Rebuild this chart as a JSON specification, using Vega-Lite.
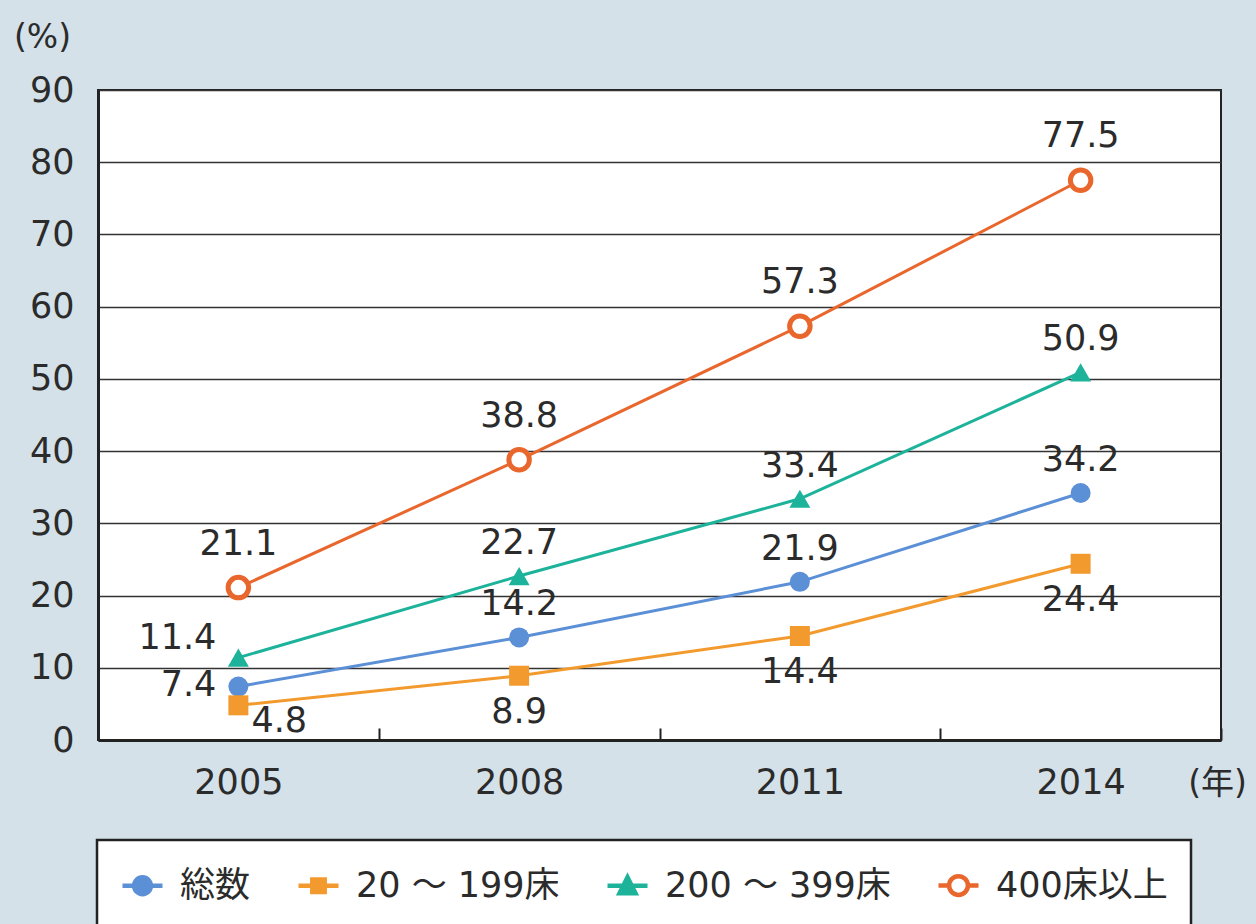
{
  "$schema": "https://vega.github.io/schema/vega-lite/v6.json",
  "width": 1123,
  "height": 650,
  "autosize": "none",
  "padding": {"left": 98, "top": 90, "right": 35, "bottom": 184},
  "background": "#d4e1e9",
  "config": {
    "font": "'DejaVu Sans', 'Noto Sans CJK JP'",
    "view": {"fill": "white", "stroke": "#222", "strokeWidth": 2},
    "text": {"font": "'DejaVu Sans', 'Noto Sans CJK JP'", "fontSize": 35, "color": "#2b2b2b"},
    "legend": {
      "title": null,
      "orient": "none",
      "direction": "horizontal",
      "legendX": -1,
      "legendY": 750,
      "fillColor": "white",
      "strokeColor": "#222",
      "padding": 23,
      "symbolSize": 1600,
      "symbolStrokeWidth": 4.5,
      "symbolOpacity": 1,
      "labelFontSize": 35,
      "labelColor": "#2b2b2b",
      "labelFont": "'DejaVu Sans', 'Noto Sans CJK JP'",
      "labelLimit": 0,
      "labelOffset": 15,
      "columnPadding": 38
    }
  },
  "data": {
    "values": [
      {"year": "2005", "series": "総数", "value": 7.4},
      {"year": "2005", "series": "20 ～ 199床", "value": 4.8},
      {"year": "2005", "series": "200 ～ 399床", "value": 11.4},
      {"year": "2005", "series": "400床以上", "value": 21.1},
      {"year": "2008", "series": "総数", "value": 14.2},
      {"year": "2008", "series": "20 ～ 199床", "value": 8.9},
      {"year": "2008", "series": "200 ～ 399床", "value": 22.7},
      {"year": "2008", "series": "400床以上", "value": 38.8},
      {"year": "2011", "series": "総数", "value": 21.9},
      {"year": "2011", "series": "20 ～ 199床", "value": 14.4},
      {"year": "2011", "series": "200 ～ 399床", "value": 33.4},
      {"year": "2011", "series": "400床以上", "value": 57.3},
      {"year": "2014", "series": "総数", "value": 34.2},
      {"year": "2014", "series": "20 ～ 199床", "value": 24.4},
      {"year": "2014", "series": "200 ～ 399床", "value": 50.9},
      {"year": "2014", "series": "400床以上", "value": 77.5}
    ]
  },
  "encoding": {
    "x": {
      "field": "year",
      "type": "ordinal",
      "scale": {"type": "band", "paddingInner": 0, "paddingOuter": 0},
      "axis": {
        "title": "(年)",
        "titleX": 1119,
        "titleY": 43,
        "titleAlign": "center",
        "titleBaseline": "middle",
        "titleFontSize": 33,
        "titleFontWeight": "normal",
        "titleColor": "#2b2b2b",
        "labelAngle": 0,
        "labelFontSize": 35,
        "labelColor": "#2b2b2b",
        "labelPadding": 37,
        "tickBand": "extent",
        "tickSize": -12,
        "tickWidth": 2,
        "tickColor": "#222",
        "domainColor": "#222",
        "domainWidth": 3,
        "grid": false
      }
    },
    "y": {
      "field": "value",
      "type": "quantitative",
      "scale": {"domain": [0, 90], "nice": false},
      "axis": {
        "values": [0, 10, 20, 30, 40, 50, 60, 70, 80, 90],
        "title": "(%)",
        "titleX": -56,
        "titleY": -53,
        "titleAngle": 0,
        "titleAlign": "center",
        "titleBaseline": "middle",
        "titleFontSize": 33,
        "titleFontWeight": "normal",
        "titleColor": "#2b2b2b",
        "labelFontSize": 35,
        "labelColor": "#2b2b2b",
        "labelPadding": 24,
        "ticks": false,
        "grid": true,
        "gridColor": "#333",
        "gridWidth": 1.3,
        "domainColor": "#222",
        "domainWidth": 3
      }
    }
  },
  "layer": [
    {
      "transform": [{"filter": "false"}],
      "mark": {"type": "point", "filled": true, "opacity": 1},
      "encoding": {
        "fill": {
          "field": "series",
          "type": "nominal",
          "scale": {
            "domain": ["総数", "20 ～ 199床", "200 ～ 399床", "400床以上"],
            "range": ["#5b8fd6", "#f39a2e", "#1db39b", "#ffffff"]
          },
          "legend": {"encode": {"legend": {"update": {"strokeWidth": {"value": 2.5}}}}}
        },
        "stroke": {
          "field": "series",
          "type": "nominal",
          "scale": {
            "domain": ["総数", "20 ～ 199床", "200 ～ 399床", "400床以上"],
            "range": ["#5b8fd6", "#f39a2e", "#1db39b", "#e9672d"]
          }
        },
        "shape": {
          "field": "series",
          "type": "nominal",
          "scale": {
            "domain": ["総数", "20 ～ 199床", "200 ～ 399床", "400床以上"],
            "range": [
              "M-1,0H1M0.42,0A0.42,0.42 0 1,1 -0.42,0A0.42,0.42 0 1,1 0.42,0Z",
              "M-1,0H1M-0.31,-0.31H0.31V0.31H-0.31Z",
              "M-1,0H1M0,-0.42L0.4,0.38H-0.4Z",
              "M-1,0H-0.47M0.47,0H1M0.47,0A0.47,0.47 0 1,1 -0.47,0A0.47,0.47 0 1,1 0.47,0Z"
            ]
          }
        }
      }
    },
    {
      "mark": {"type": "line", "strokeWidth": 3},
      "encoding": {
        "color": {
          "field": "series",
          "type": "nominal",
          "scale": {
            "domain": ["総数", "20 ～ 199床", "200 ～ 399床", "400床以上"],
            "range": ["#5b8fd6", "#f39a2e", "#1db39b", "#e9672d"]
          },
          "legend": null
        }
      }
    },
    {
      "transform": [{"filter": "datum.series === '総数'"}],
      "mark": {"type": "point", "shape": "circle", "filled": true, "opacity": 1, "size": 400, "color": "#5b8fd6"}
    },
    {
      "transform": [{"filter": "datum.series === '20 ～ 199床'"}],
      "mark": {"type": "point", "shape": "square", "filled": true, "opacity": 1, "size": 400, "color": "#f39a2e"}
    },
    {
      "transform": [{"filter": "datum.series === '200 ～ 399床'"}],
      "mark": {"type": "point", "shape": "triangle-up", "filled": true, "opacity": 1, "size": 440, "color": "#1db39b"}
    },
    {
      "transform": [{"filter": "datum.series === '400床以上'"}],
      "mark": {"type": "point", "shape": "circle", "filled": false, "fill": "white", "fillOpacity": 1, "stroke": "#e9672d", "strokeWidth": 5, "opacity": 1, "size": 420}
    },
    {
      "transform": [{"filter": "datum.series === '400床以上'"}],
      "mark": {"type": "text", "dy": -44},
      "encoding": {"text": {"field": "value", "type": "quantitative", "format": ".1f"}}
    },
    {
      "transform": [{"filter": "(datum.series === '総数' || datum.series === '200 ～ 399床') && datum.year !== '2005'"}],
      "mark": {"type": "text", "dy": -33},
      "encoding": {"text": {"field": "value", "type": "quantitative", "format": ".1f"}}
    },
    {
      "transform": [{"filter": "datum.series === '20 ～ 199床' && datum.year !== '2005'"}],
      "mark": {"type": "text", "dy": 36},
      "encoding": {"text": {"field": "value", "type": "quantitative", "format": ".1f"}}
    },
    {
      "transform": [{"filter": "datum.series === '200 ～ 399床' && datum.year === '2005'"}],
      "mark": {"type": "text", "align": "right", "dx": -22, "dy": -20},
      "encoding": {"text": {"field": "value", "type": "quantitative", "format": ".1f"}}
    },
    {
      "transform": [{"filter": "datum.series === '総数' && datum.year === '2005'"}],
      "mark": {"type": "text", "align": "right", "dx": -22, "dy": -2},
      "encoding": {"text": {"field": "value", "type": "quantitative", "format": ".1f"}}
    },
    {
      "transform": [{"filter": "datum.series === '20 ～ 199床' && datum.year === '2005'"}],
      "mark": {"type": "text", "align": "left", "dx": 13, "dy": 16},
      "encoding": {"text": {"field": "value", "type": "quantitative", "format": ".1f"}}
    }
  ]
}
